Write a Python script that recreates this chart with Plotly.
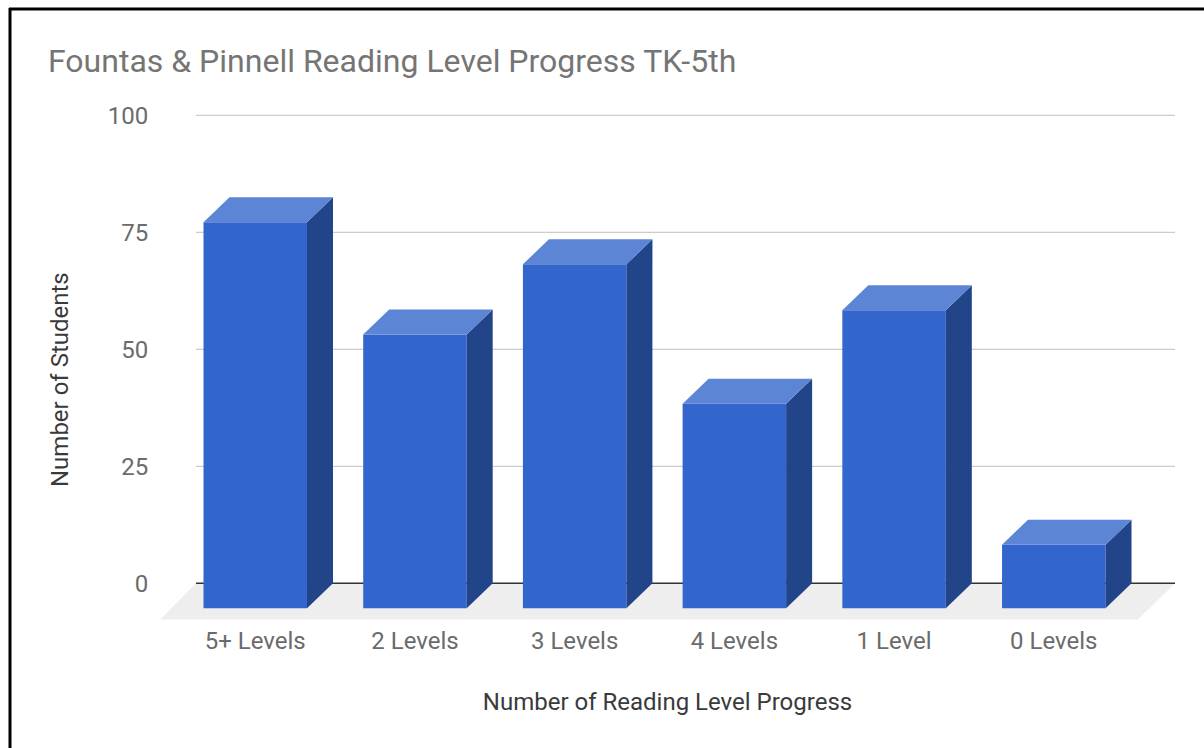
import plotly.graph_objects as go

# Data
categories = ["5+ Levels", "2 Levels", "3 Levels", "4 Levels", "1 Level", "0 Levels"]
students = [82.5, 58.5, 73.5, 43.7, 63.7, 13.6]
y_ticks = [0, 25, 50, 75, 100]

TITLE = "Fountas & Pinnell Reading Level Progress TK-5th"
X_TITLE = "Number of Reading Level Progress"
Y_TITLE = "Number of Students"

# Style
FRONT, TOP, SIDE = "#3366cc", "#5c85d6", "#224488"
FLOOR, GRID, BASE = "#eeeeee", "#cccccc", "#333333"
TITLE_GREY, TICK_GREY, AXIS_DARK = "#757575", "#6b6b6b", "#3a3a3a"
FONT = "Roboto"

W, H = 1204, 748
L, R, T, B = 160, 1175, 110, 620
X_RANGE = [-0.5964, 5.759]
Y_RANGE = [-7.84, 101.13]
BAR_W = 0.648
DX = 0.1628   # depth of the pseudo 3D effect, x units
DY = 5.34     # depth of the pseudo 3D effect, y units
GRID_X0 = -0.371
FLOOR_Y = -7.73
FLOOR_RIGHT = 5.527

xs = list(range(len(categories)))
fig = go.Figure()

# Front faces
fig.add_trace(go.Bar(
    x=xs, y=students, base=[-DY] * len(xs), width=BAR_W,
    marker=dict(color=FRONT, line=dict(width=0)),
    hovertemplate="%{customdata}: %{y}<extra></extra>", customdata=categories,
    showlegend=False))

# Side and top faces derive from the same values
for x, v in zip(xs, students):
    a, b = x - BAR_W / 2, x + BAR_W / 2
    fig.add_trace(go.Scatter(
        x=[b, b + DX, b + DX, b, b], y=[-DY, 0, v, v - DY, -DY],
        mode="lines", fill="toself", fillcolor=SIDE, line=dict(width=0),
        hoverinfo="skip", showlegend=False))
    fig.add_trace(go.Scatter(
        x=[a, a + DX, b + DX, b, a], y=[v - DY, v, v, v - DY, v - DY],
        mode="lines", fill="toself", fillcolor=TOP, line=dict(width=0),
        hoverinfo="skip", showlegend=False))

shapes = [dict(
    type="path", layer="below", xref="x", yref="y", fillcolor=FLOOR, line=dict(width=0),
    path=f"M {X_RANGE[0]} {FLOOR_Y} L {GRID_X0} 0 L {X_RANGE[1]} 0 L {FLOOR_RIGHT} {FLOOR_Y} Z")]
for t in y_ticks:
    shapes.append(dict(
        type="line", layer="below", xref="x", yref="y", x0=GRID_X0, x1=X_RANGE[1], y0=t, y1=t,
        line=dict(color=BASE if t == 0 else GRID, width=1.5 if t == 0 else 1.2)))

# Screenshot border on the left and top only
px = lambda v: (v - L) / (R - L)
py = lambda v: (B - v) / (B - T)
shapes.append(dict(type="line", xref="paper", yref="paper", x0=px(10), x1=px(10), y0=py(8), y1=py(H),
                   line=dict(color="#000000", width=3)))
shapes.append(dict(type="line", xref="paper", yref="paper", x0=px(9), x1=px(W), y0=py(9), y1=py(9),
                   line=dict(color="#000000", width=3)))

fig.update_layout(
    width=W, height=H, autosize=False,
    margin=dict(l=L, r=W - R, t=T, b=H - B, pad=0),
    paper_bgcolor="#ffffff", plot_bgcolor="rgba(0,0,0,0)",
    font=dict(family=FONT, color=TICK_GREY),
    title=dict(text=TITLE, x=48 / W, xanchor="left", xref="container",
               y=1 - 61 / H, yanchor="middle", font=dict(size=32, color=TITLE_GREY, family=FONT)),
    xaxis=dict(range=X_RANGE, tickmode="array", tickvals=xs, ticktext=categories,
               showgrid=False, zeroline=False, showline=False, ticks="outside", ticklen=1,
               ticklabelstandoff=-2,
               tickcolor="rgba(0,0,0,0)", tickfont=dict(size=24, color=TICK_GREY),
               title=dict(text=X_TITLE, font=dict(size=24, color=AXIS_DARK), standoff=39)),
    yaxis=dict(range=Y_RANGE, tickmode="array", tickvals=y_ticks,
               showgrid=False, zeroline=False, showline=False, ticks="outside", ticklen=6,
               tickcolor="rgba(0,0,0,0)", tickfont=dict(size=24, color=TICK_GREY)),
    shapes=shapes,
    annotations=[dict(text=Y_TITLE, xref="paper", yref="paper", x=px(60), y=py(380),
                      xanchor="center", yanchor="middle", textangle=-90, showarrow=False,
                      font=dict(size=24, color=AXIS_DARK))],
)

fig.write_html("out.html", config={"displayModeBar": False},
               post_script="document.body.style.margin='0';document.body.style.overflow='hidden';")
